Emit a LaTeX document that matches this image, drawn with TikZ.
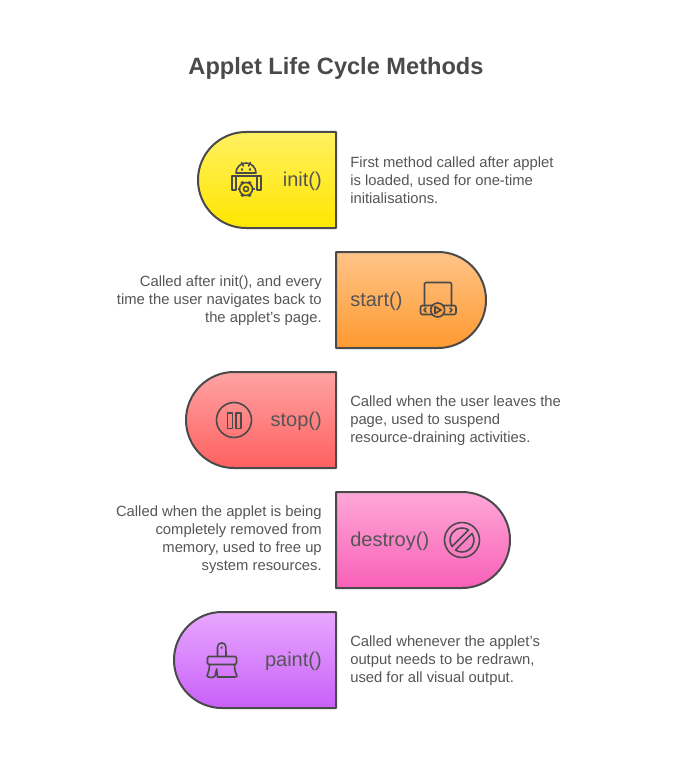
\documentclass[tikz,border=0pt]{standalone}
\usepackage{fontspec}
\setmainfont{Liberation Sans}
\definecolor{inkgray}{HTML}{4A4A4A}
\definecolor{textgray}{HTML}{555555}
\definecolor{inittop}{HTML}{FFF060}
\definecolor{initbot}{HTML}{FFE600}
\definecolor{starttop}{HTML}{FFC488}
\definecolor{startbot}{HTML}{FF9A30}
\definecolor{stoptop}{HTML}{FFA3A3}
\definecolor{stopbot}{HTML}{FF6060}
\definecolor{destroytop}{HTML}{FFA8D8}
\definecolor{destroybot}{HTML}{F860B8}
\definecolor{painttop}{HTML}{E8A8FF}
\definecolor{paintbot}{HTML}{C860F8}
\tikzset{
	lobe/.style={draw=inkgray,line width=1.5pt,line join=round},
	icon/.style={draw=inkgray,line width=1.2pt,line join=round,line cap=round},
	call/.style={inner sep=0pt,text=textgray,font=\fontsize{15}{17}\selectfont},
	note/.style={inner sep=0pt,text=textgray,font=\fontsize{11.1}{13.5}\selectfont},
	title/.style={inner sep=0pt,text=inkgray,font=\bfseries\fontsize{17.7}{22}\selectfont},
}
\begin{document}
\begin{tikzpicture}[x=.75pt,y=-.75pt]
		\useasboundingbox (0,0) rectangle (672,781);
		%title
		\node[title] (heading) at (336,68) {Applet Life Cycle Methods};
		%init
			% shape
			\draw[lobe,top color=inittop,bottom color=initbot] (336,132) -- (246,132) arc (270:90:48) -- (336,228) -- cycle;
			\node[call,anchor=east] (initcall) at (322,181) {init()};
			\node[note,anchor=west,align=left] (initnote) at (350,180.5) {First method called after applet\\is loaded, used for one-time\\initialisations.};
			% android
			\draw[icon] (236,173) arc (180:360:10) -- cycle;
			\draw[icon] (241.5,162.5) -- (243.5,166);
			\draw[icon] (250.5,162.5) -- (248.5,166);
			\draw[icon,fill=inkgray] (242,169.5) circle (.5);
			\draw[icon,fill=inkgray] (250,169.5) circle (.5);
			\draw[icon] (232,176) -- (261,176);
			\draw[icon] (232,176) -- (232,190) -- (236,190) -- (236,176);
			\draw[icon] (257,176) -- (257,190) -- (261,190) -- (261,176);
			% gear
			\draw[icon,fill=initbot] (246,189) circle (6.5);
			\draw[icon] (246,189) circle (2.5);
			\foreach \a in {0,60,...,300}
				\draw[icon,line width=2.2pt,line cap=butt] (246,189) ++(\a:6.5) -- ++(\a:2);
		%start
			% shape
			\draw[lobe,top color=starttop,bottom color=startbot] (336,252) -- (438,252) arc (-90:90:48) -- (336,348) -- cycle;
			\node[call,anchor=west] (startcall) at (350,301) {start()};
			\node[note,anchor=east,align=right] (startnote) at (322,300.5) {Called after init(), and every\\time the user navigates back to\\the applet's page.};
			% player
			\draw[icon,rounded corners=1pt] (424.5,306) -- (424.5,282.5) -- (451.5,282.5) -- (451.5,306);
			\draw[icon,rounded corners=1.5pt] (420.5,305.5) rectangle (456,314.5);
			\draw[icon,fill=startbot!85!starttop] (437.7,310) circle (7);
			\draw[icon] (435,306.5) -- (435,313.5) -- (441,310) -- cycle;
			\draw[icon] (426,308) -- (424,310) -- (426,312);
			\draw[icon] (450,308) -- (452,310) -- (450,312);
		%stop
			% shape
			\draw[lobe,top color=stoptop,bottom color=stopbot] (336,372) -- (234,372) arc (270:90:48) -- (336,468) -- cycle;
			\node[call,anchor=east] (stopcall) at (322,421) {stop()};
			\node[note,anchor=west,align=left] (stopnote) at (350,420.5) {Called when the user leaves the\\page, used to suspend\\resource-draining activities.};
			% pause
			\draw[icon] (234,420) circle (17.5);
			\draw[icon] (227.5,413) rectangle (232.5,428.5);
			\draw[icon] (236,413) rectangle (241,428.5);
		%destroy
			% shape
			\draw[lobe,top color=destroytop,bottom color=destroybot] (336,492) -- (462,492) arc (-90:90:48) -- (336,588) -- cycle;
			\node[call,anchor=west] (destroycall) at (350,541) {destroy()};
			\node[note,anchor=east,align=right] (destroynote) at (322,539.5) {Called when the applet is being\\completely removed from\\memory, used to free up\\system resources.};
			% forbidden
			\draw[icon] (462,540) circle (17.5);
			\draw[icon] (462,540) ++(147:12) arc (147:303:12) -- cycle;
			\draw[icon] (462,540) ++(-33:12) arc (-33:123:12) -- cycle;
		%paint
			% shape
			\draw[lobe,top color=painttop,bottom color=paintbot] (336,612) -- (222,612) arc (270:90:48) -- (336,708) -- cycle;
			\node[call,anchor=east] (paintcall) at (322,661) {paint()};
			\node[note,anchor=west,align=left] (paintnote) at (350,660.5) {Called whenever the applet's\\output needs to be redrawn,\\used for all visual output.};
			% brush
			\draw[icon] (217.5,656.5) -- (217.5,647) arc (180:360:4.2) -- (226,656.5);
			\draw[icon] (221.7,647.7) circle (.4);
			\draw[icon,rounded corners=1pt] (209,664.5) -- (207.5,664.5) -- (207.5,656.5) -- (236.5,656.5) -- (236.5,664.5) -- (209,664.5);
			\draw[icon] (209.5,664.5) .. controls (209.5,670) and (208,673) .. (207,676) .. controls (209,678) and (213,678) .. (215,676) -- (216.7,669) -- (217.5,677) -- (234,677) .. controls (235,677) and (236.5,677) .. (237,676) .. controls (235.5,673) and (234.5,670) .. (234.5,664.5);
	\end{tikzpicture}
\end{document}
